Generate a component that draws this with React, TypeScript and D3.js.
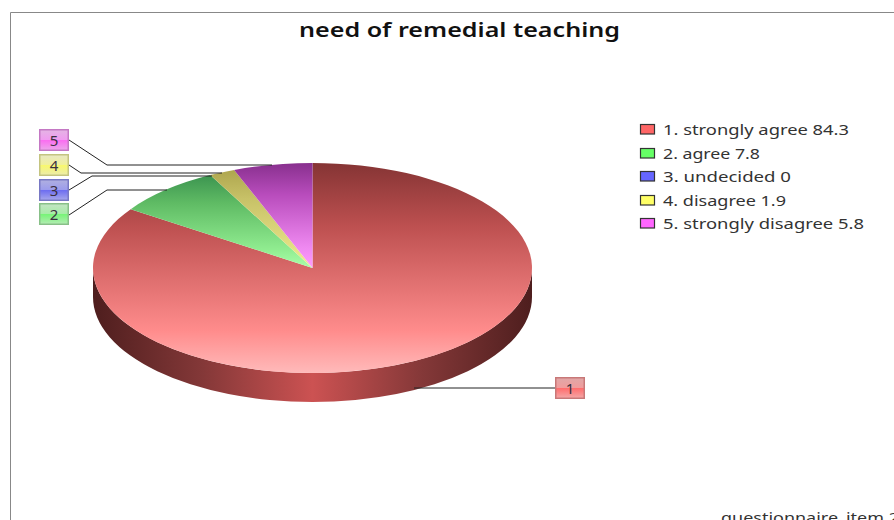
import React from "react";
import * as d3 from "d3";

const labels = ["1", "2", "3", "4", "5"];
const names = ["strongly agree", "agree", "undecided", "disagree", "strongly disagree"];
const values = [84.3, 7.8, 0, 1.9, 5.8];
const legendColors = ["#ff6666", "#66ff66", "#6666ff", "#ffff66", "#ff66ff"];
const topColors = ["#853434", "#3c9450", "#3a3a9a", "#aea64e", "#88308e"];
const upperColors = ["#bd5050", "#5fbb64", "#5050bd", "#c8c268", "#b84cbc"];
const mainColors = ["#ff8c8c", "#90ec90", "#8c8cff", "#e4e084", "#ee88f0"];
const bottomColors = ["#ffbaba", "#aaffaa", "#babaff", "#f0ec94", "#ff9cff"];
const boxTop = ["#e0a8a8", "#c4e4c4", "#b0b0e0", "#e8e8c4", "#e4b4e4"];
const boxUpper = ["#f09c9c", "#a8eca8", "#9c9cec", "#f0f09c", "#f09cf0"];
const boxMid = ["#ff6e6e", "#78f478", "#6e6ef0", "#f8f86e", "#fa6ef0"];
const boxLow = ["#f4a8a8", "#b4ecb4", "#a8a8ec", "#ececac", "#eca8ec"];
const boxEdge = ["#c87878", "#88c088", "#7878c4", "#c4c480", "#c478c4"];
const title = "need of remedial teaching";
const footer = "questionnaire_item 2";

const CX = 312.5, CY = 268, RX = 219.5, RY = 105, DEPTH = 29;
// callout boxes, in order of the labels: [x, y]
const boxPos: [number, number][] = [[555, 377], [39, 203], [39, 179], [39, 154], [39, 129]];
const leaders: [number, number][][] = [
  [[555, 388], [414, 388]],
  [[69, 215], [107, 190], [167, 190]],
  [[69, 190], [92, 176], [212, 176]],
  [[69, 165], [81, 173], [222, 173]],
  [[69, 140], [107, 165], [272, 165]],
];
const legendY = [129, 153, 176, 200, 223];
const legendW = [186, 97, 128, 123, 201];

export default function App() {
  const pie = d3.pie<number>().sort(null).startAngle(0).endAngle(2 * Math.PI);
  const arcs = pie(values);
  const arc = d3.arc<d3.PieArcDatum<number>>().innerRadius(0).outerRadius(RX);
  const line = d3.line();
  const font = "'Noto Sans', 'Open Sans', sans-serif";
  const side = `M${CX - RX},${CY} A${RX},${RY} 0 0 0 ${CX + RX},${CY} L${CX + RX},${CY + DEPTH} A${RX},${RY} 0 0 1 ${CX - RX},${CY + DEPTH} Z`;
  return (
    <svg width={894} height={520} style={{ position: "fixed", left: 0, top: 0, display: "block" }} fontFamily={font}>
      <defs>
        {arcs.map((_, i) => (
          <linearGradient key={i} id={`s${i}`} x1="0" y1="0" x2="0" y2="1">
            <stop offset="0" stopColor={topColors[i]} />
            <stop offset="0.3" stopColor={upperColors[i]} />
            <stop offset="0.8" stopColor={mainColors[i]} />
            <stop offset="1" stopColor={bottomColors[i]} />
          </linearGradient>
        ))}
        {labels.map((_, i) => (
          <linearGradient key={i} id={`b${i}`} x1="0" y1="0" x2="0" y2="1">
            <stop offset="0" stopColor={boxTop[i]} />
            <stop offset="0.48" stopColor={boxUpper[i]} />
            <stop offset="0.52" stopColor={boxMid[i]} />
            <stop offset="1" stopColor={boxLow[i]} />
          </linearGradient>
        ))}
        <linearGradient id="wall" x1="0" y1="0" x2="1" y2="0">
          <stop offset="0" stopColor="#4e1e1e" />
          <stop offset="0.25" stopColor="#843838" />
          <stop offset="0.5" stopColor="#cc5252" />
          <stop offset="0.75" stopColor="#843838" />
          <stop offset="1" stopColor="#4e1e1e" />
        </linearGradient>
      </defs>
      <rect width={894} height={520} fill="#fff" />
      <path d="M10.5,520 V12.5 H894" fill="none" stroke="#888" />
      <text x={459.5} y={37} textAnchor="middle" fontSize={19} fontWeight={600} fill="#111" textLength={321} lengthAdjust="spacingAndGlyphs">{title}</text>

      <path d={side} fill="url(#wall)" />
      <g transform={`translate(${CX},${CY}) scale(1,${RY / RX})`}>
        {arcs.map((a, i) => (a.value > 0 ? <path key={i} d={arc(a) ?? ""} fill={`url(#s${i})`} /> : null))}
      </g>

      {leaders.map((pts, i) => (
        <path key={i} d={line(pts) ?? ""} fill="none" stroke="#222" strokeWidth={1} />
      ))}
      {labels.map((l, i) => (
        <g key={i} transform={`translate(${boxPos[i][0]},${boxPos[i][1]})`}>
          <rect x={0.75} y={0.75} width={28.5} height={20.5} fill={`url(#b${i})`} stroke={boxEdge[i]} strokeWidth={1.5} />
          <text x={15} y={16.5} textAnchor="middle" fontSize={15} fill="#3a3040">{l}</text>
        </g>
      ))}

      {labels.map((l, i) => (
        <g key={i}>
          <rect x={640.5} y={legendY[i] - 4.5} width={14} height={9.5} fill={legendColors[i]} stroke="#333" strokeWidth={1.2} />
          <text x={663} y={legendY[i] + 5.5} fontSize={14} fill="#333" textLength={legendW[i]} lengthAdjust="spacingAndGlyphs">{`${l}. ${names[i]} ${values[i]}`}</text>
        </g>
      ))}
      <text x={721} y={523} fontSize={14} fill="#333" textLength={178} lengthAdjust="spacingAndGlyphs">{footer}</text>
    </svg>
  );
}
